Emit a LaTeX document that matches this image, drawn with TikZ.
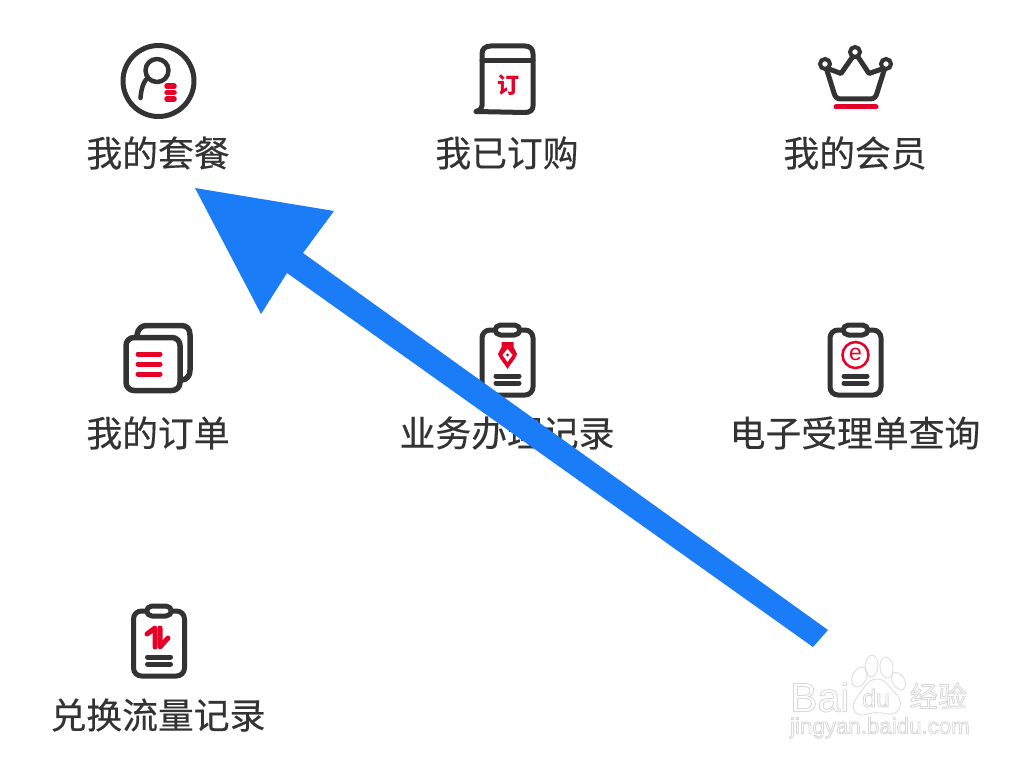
\documentclass[tikz,border=0pt]{standalone}
\usepackage{fontspec}
\setmainfont{Liberation Sans}
\newfontfamily\cjk[FakeBold=0.35]{Noto Sans CJK SC}
\newfontfamily\cjkplain{Noto Sans CJK SC}
\definecolor{icongray}{HTML}{333333}
\definecolor{iconred}{HTML}{E60027}
\definecolor{arrowblue}{HTML}{1A7CF7}
\definecolor{markgray}{HTML}{DEDEDE}
\newcommand{\hollow}{\special{pdf:code 1 Tr 0.9 w 0.85 G}}
\newcommand{\solid}{\special{pdf:code 0 Tr}}
\tikzset{
	itemlabel/.style={text=icongray,font=\cjk\fontsize{35.8}{40}\selectfont,inner sep=0pt},
	iconline/.style={draw=icongray,line width=5pt,line cap=round,line join=round},
	redline/.style={draw=iconred,line width=5pt,line cap=round},
	wmark/.style={text=markgray,inner sep=0pt}
}
\begin{document}
\begin{tikzpicture}[x=1pt,y=-1pt]
	\useasboundingbox (0,0) rectangle (1027,765);

	% labels
	\node[itemlabel] (meal) at (158,153) {我的套餐};
	\node[itemlabel] (bought) at (507,153) {我已订购};
	\node[itemlabel] (member) at (855,153) {我的会员};
	\node[itemlabel] (orders) at (158,433) {我的订单};
	\node[itemlabel] (records) at (507,433) {业务办理记录};
	\node[itemlabel] (query) at (855,433) {电子受理单查询};
	\node[itemlabel] (flow) at (158,715) {兑换流量记录};

	% person
	\draw[iconline] (158.5,81) circle (35.5);
	\draw[iconline,line width=4.5pt] (157,70.5) circle (11.5);
	\draw[iconline,line width=4.5pt] (148,78) .. controls (143,81) and (141,91) .. (140.5,98);
	\foreach \y in {86,92.5,99}
		\draw[redline,line width=5.5pt] (167,\y)--(174,\y);

	% book
	\draw[iconline] (476,111.5)--(525,112.5) .. controls (530,112.5) and (533,110) .. (533,106)--(533,54) .. controls (533,49) and (530,46) .. (525,46)--(491,46) .. controls (485,46) and (482,49) .. (482,54)--(482,106) .. controls (482,109) and (479,111) .. (476,111.5);
	\draw[iconline] (482,60.5)--(533,60.5);
	\node[text=iconred,font=\cjkplain\bfseries\fontsize{22}{24}\selectfont,inner sep=0pt] (ding) at (508,85) {订};

	% crown
	\coordinate (L) at (825,64);
	\coordinate (M) at (855,52);
	\coordinate (R) at (886,64);
	\draw[iconline] (826.5,69)--(834,93) .. controls (835,97) and (837,99) .. (841,99)--(870,99) .. controls (874,99) and (876,97) .. (877,93)--(884.5,69);
	\draw[iconline] (829,69)--(841,73.5)--(852.5,57);
	\draw[iconline] (858,57)--(869,73.5)--(882,69);
	\foreach \p in {(L),(M),(R)}
		\draw[draw=icongray,line width=4pt,fill=white] \p circle (5);
	\draw[redline] (836,107)--(876,107);

	% stacked sheets
	\draw[iconline,line width=5.5pt] (137,335) .. controls (138,329) and (141,325.5) .. (147,325.5)--(181,325.5) .. controls (187,325.5) and (190,329) .. (190,335)--(190,370) .. controls (190,376) and (187,379.5) .. (182,380);
	\draw[iconline,line width=5.5pt,rounded corners=8pt] (126,337.5) rectangle (180,390.5);
	\foreach \y in {354,364,374}
		\draw[redline] (138,\y)--(160,\y);

	% clipboards
	\foreach \cx/\dy in {507.5/0,855.5/0,159/281}{
		\draw[iconline,rounded corners=8pt] (\cx-13,330+\dy)--(\cx-25.5,330+\dy)--(\cx-25.5,395+\dy)--(\cx+25.5,395+\dy)--(\cx+25.5,330+\dy)--(\cx+13,330+\dy);
		\draw[iconline,rounded corners=5.5pt] (\cx-12.5,325+\dy) rectangle (\cx+12.5,335+\dy);
		\draw[iconline] (\cx-11.5,376+\dy)--(\cx+11.5,376+\dy);
		\draw[iconline] (\cx-11.5,383+\dy)--(\cx+11.5,383+\dy);
	}
	% pen nib
	\fill[iconred] (501.5,342)--(513.5,342)--(513.5,347)--(517,354) .. controls (515,360) and (510,364) .. (507.5,369) .. controls (505,364) and (500,360) .. (498,354)--(501.5,347)--cycle;
	\fill[white] (507.5,349)--(502.5,355)--(507.5,362)--(512.5,355)--cycle;
	\fill[iconred] (507.5,355) circle (1.7);
	% e ring
	\draw[draw=iconred,line width=2.5pt] (855.5,355) circle (13);
	\node[text=iconred,font=\fontsize{23}{24}\selectfont,inner sep=0pt] (echar) at (855.5,354.5) {e};
	% swap arrows
	\draw[redline,line join=round] (147,634)--(155,628)--(155,647);
	\draw[redline,line join=round] (160,628)--(160,647)--(168,638);

	% watermark
	\foreach \x/\y/\rx/\ry/\a in {859.5/677/7/10.5/-25,871.5/666/6.5/11/-5,886.5/667.5/6.5/10.5/8,898.5/681/6/9.5/30}
		\draw[markgray,line width=0.9pt,rotate around={\a:(\x,\y)}] (\x,\y) ellipse (\rx pt and \ry pt);
	\draw[markgray,line width=0.9pt] (857,697) .. controls (864,688) and (868,679) .. (877,679) .. controls (886,679) and (890,688) .. (897,695) .. controls (905,705) and (898,716) .. (887,714) .. controls (880,712) and (872,712) .. (864,715) .. controls (853,716) and (850,706) .. (857,697)--cycle;
	\node[wmark,font=\fontsize{41}{44}\selectfont,anchor=west] (bai) at (790,697) {\hollow Bai\solid};
	\node[wmark,font=\fontsize{25}{28}\selectfont] (du) at (876,698) {\hollow du\solid};
	\node[wmark,font=\cjkplain\fontsize{28.5}{30}\selectfont] (jing) at (938,696) {\hollow 经验\solid};
	\node[wmark,font=\fontsize{22.3}{24}\selectfont] (site) at (880,728) {\hollow jingyan.baidu.com\solid};

	% big arrow
	\coordinate (tip) at (195,188);
	\coordinate (wingA) at (334,211);
	\coordinate (wingB) at (261,314);
	\coordinate (neckA) at (303,253);
	\coordinate (neckB) at (287,273);
	\coordinate (tailA) at (828,630);
	\coordinate (tailB) at (813,647);
	\fill[arrowblue] (tip)--(wingA)--(neckA)--(tailA)--(tailB)--(neckB)--(wingB)--cycle;
\end{tikzpicture}
\end{document}
